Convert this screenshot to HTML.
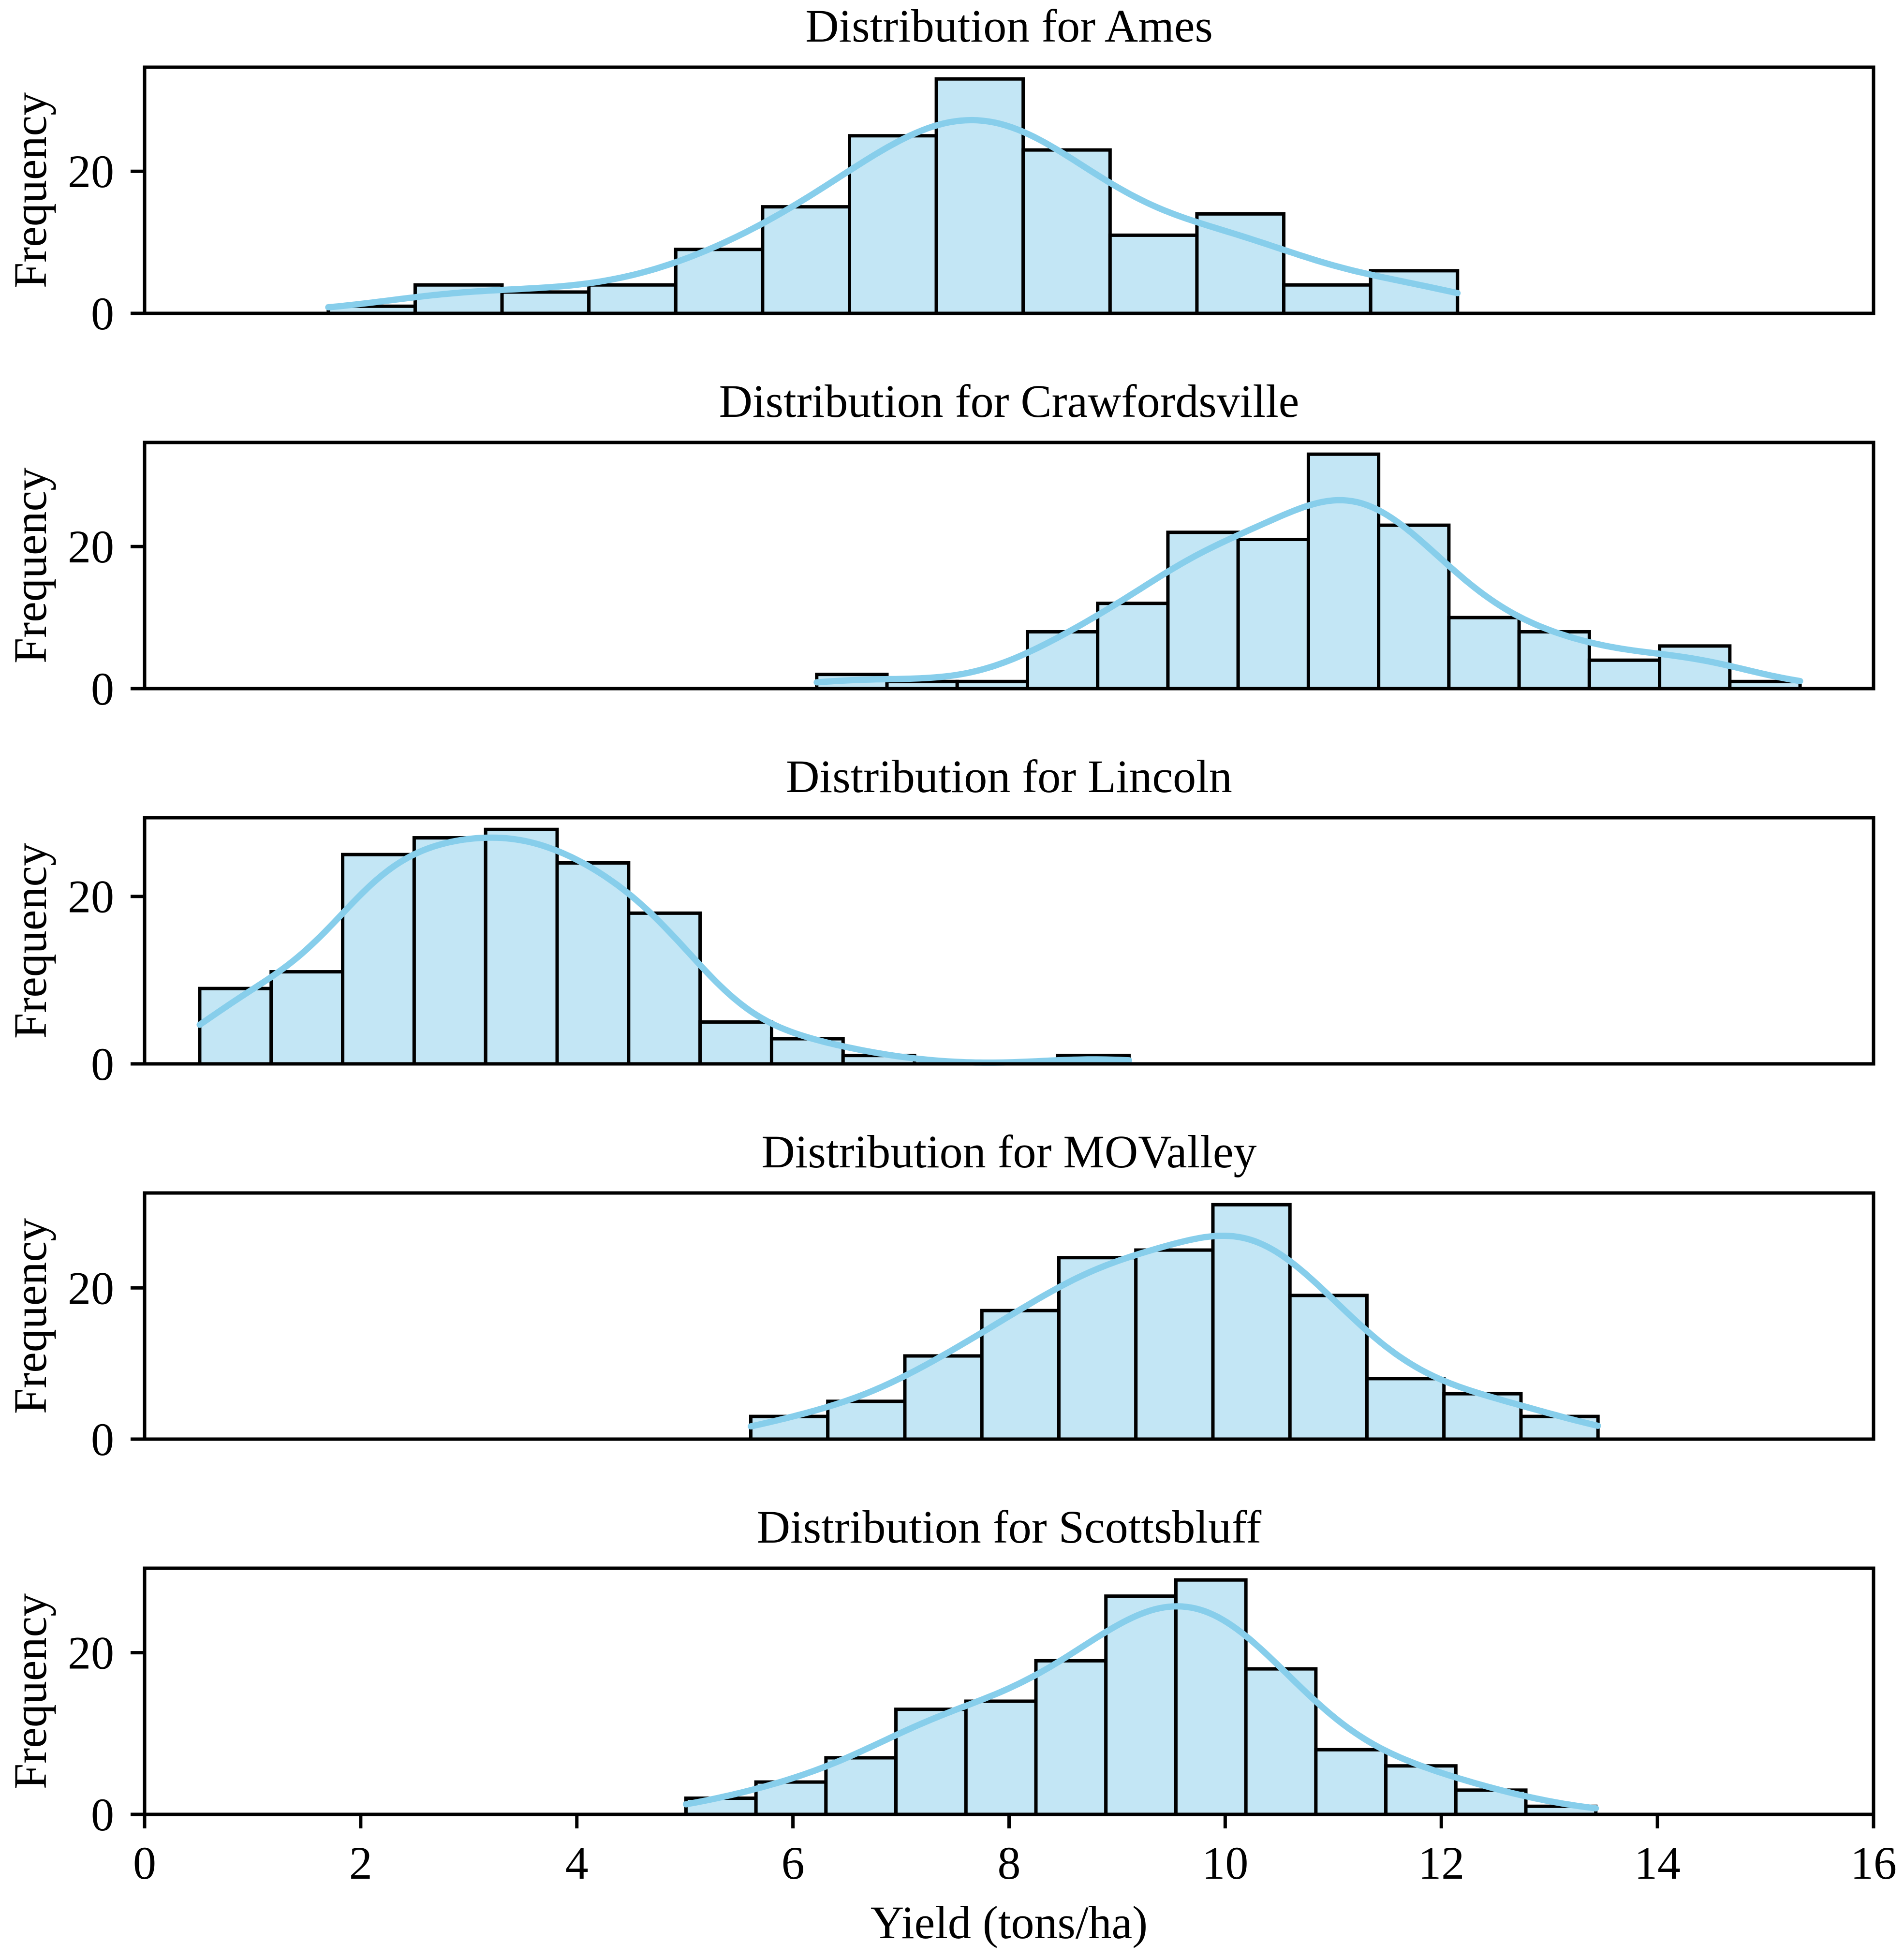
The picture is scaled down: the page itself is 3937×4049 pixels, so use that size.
<!DOCTYPE html>
<html><head><meta charset="utf-8"><style>
html,body{margin:0;padding:0;background:#fff;}
svg{display:block;}
text{font-family:"Liberation Serif","DejaVu Serif",serif;fill:#000;}
</style></head><body>
<svg id="fig" width="3937" height="4049" viewBox="0 0 3937 4049" xmlns="http://www.w3.org/2000/svg"></svg>
<script>
// ---- data ----
const sites = ["Ames", "Crawfordsville", "Lincoln", "MOValley", "Scottsbluff"];
const binStart = [1.70, 6.22, 0.51, 5.61, 5.01];
const binEnd = [12.15, 15.32, 9.11, 13.45, 13.43];
const countsAmes = [1, 4, 3, 4, 9, 15, 25, 33, 23, 11, 14, 4, 6];
const countsCrawfordsville = [2, 1, 1, 8, 12, 22, 21, 33, 23, 10, 8, 4, 6, 1];
const countsLincoln = [9, 11, 25, 27, 28, 24, 18, 5, 3, 1, 0, 0, 1];
const countsMOValley = [3, 5, 11, 17, 24, 25, 31, 19, 8, 6, 3];
const countsScottsbluff = [2, 4, 7, 13, 14, 19, 27, 29, 18, 8, 6, 3, 1];
const xTicks = [0, 2, 4, 6, 8, 10, 12, 14, 16];
const yTicks = [0, 20];
const xDomain = [0, 16];

const allCounts = [countsAmes, countsCrawfordsville, countsLincoln, countsMOValley, countsScottsbluff];
const NS = "http://www.w3.org/2000/svg";
const svg = document.getElementById("fig");
const L = 299, R = 3874, H = 509, TOP0 = 139, STEP = 776;
function xScale(v){ return L + (v - xDomain[0]) / (xDomain[1] - xDomain[0]) * (R - L); }
function mk(tag, attrs, parent){ const e = document.createElementNS(NS, tag); for (const k in attrs) e.setAttribute(k, attrs[k]); (parent||svg).appendChild(e); return e; }

sites.forEach((site, i) => {
  const counts = allCounts[i];
  const top = TOP0 + i * STEP, bottom = top + H;
  const ymax = Math.max(...counts) * 1.05;
  const yScale = v => bottom - v / ymax * H;
  const g = mk("g", {});
  
  

  const title = mk("text", {x: (L + R) / 2, y: top - 53, "font-size": 96, "text-anchor": "middle"}, g);
  
  
  title.textContent = "Distribution for " + site;

  const bw = (binEnd[i] - binStart[i]) / counts.length;
  counts.forEach((c, j) => {
    if (c <= 0) return;
    const x0 = xScale(binStart[i] + j * bw), x1 = xScale(binStart[i] + (j + 1) * bw);
    const r = mk("rect", {x: x0, y: yScale(c), width: x1 - x0, height: bottom - yScale(c), fill: "#c3e6f5", stroke: "#000", "stroke-width": 7}, g);
    
    
  });

  // KDE from binned data
  let n = 0, mean = 0;
  counts.forEach((c, j) => { n += c; mean += c * (binStart[i] + (j + 0.5) * bw); });
  mean /= n;
  let vr = 0;
  counts.forEach((c, j) => { const m = binStart[i] + (j + 0.5) * bw; vr += c * (m - mean) * (m - mean); });
  const sd = Math.sqrt(vr / (n - 1));
  const h = sd * Math.pow(n, -0.2);
  let d = "";
  const steps = 200;
  for (let k = 0; k <= steps; k++) {
    const xv = binStart[i] + (binEnd[i] - binStart[i]) * k / steps;
    let dens = 0;
    counts.forEach((c, j) => { const m = binStart[i] + (j + 0.5) * bw; const z = (xv - m) / h; dens += c * Math.exp(-0.5 * z * z); });
    dens = dens / (n * h * Math.sqrt(2 * Math.PI));
    const yv = dens * n * bw;
    d += (k ? "L" : "M") + xScale(xv).toFixed(1) + "," + yScale(yv).toFixed(1);
  }
  const kde = mk("path", {d: d, fill: "none", stroke: "#87ceeb", "stroke-width": 13, "stroke-linecap": "round"}, g);
  
  

  const frame = mk("rect", {x: L, y: top, width: R - L, height: H, fill: "none", stroke: "#000", "stroke-width": 7}, g);
  
  

  yTicks.forEach(t => {
    const y = yScale(t);
    const tk = mk("line", {x1: L - 29, x2: L, y1: y, y2: y, stroke: "#000", "stroke-width": 7}, g);
    
    
    const tl = mk("text", {x: L - 63, y: y + 33, "font-size": 96, "text-anchor": "end"}, g);
    
    
    tl.textContent = t;
  });

  const yl = mk("text", {x: 0, y: 0, "font-size": 96, "text-anchor": "middle", transform: "translate(95," + (top + H / 2) + ") rotate(-90)"}, g);
  
  
  yl.textContent = "Frequency";

  if (i === sites.length - 1) {
    xTicks.forEach(t => {
      const x = xScale(t);
      const tk = mk("line", {x1: x, x2: x, y1: bottom, y2: bottom + 29, stroke: "#000", "stroke-width": 7}, g);
      
      
      const tl = mk("text", {x: x, y: 3885, "font-size": 96, "text-anchor": "middle"}, g);
      
      
      tl.textContent = t;
    });
    const xl = mk("text", {x: (L + R) / 2, y: 4008, "font-size": 96, "text-anchor": "middle"}, g);
    
    
    xl.textContent = "Yield (tons/ha)";
  }
});
</script>
</body></html>
